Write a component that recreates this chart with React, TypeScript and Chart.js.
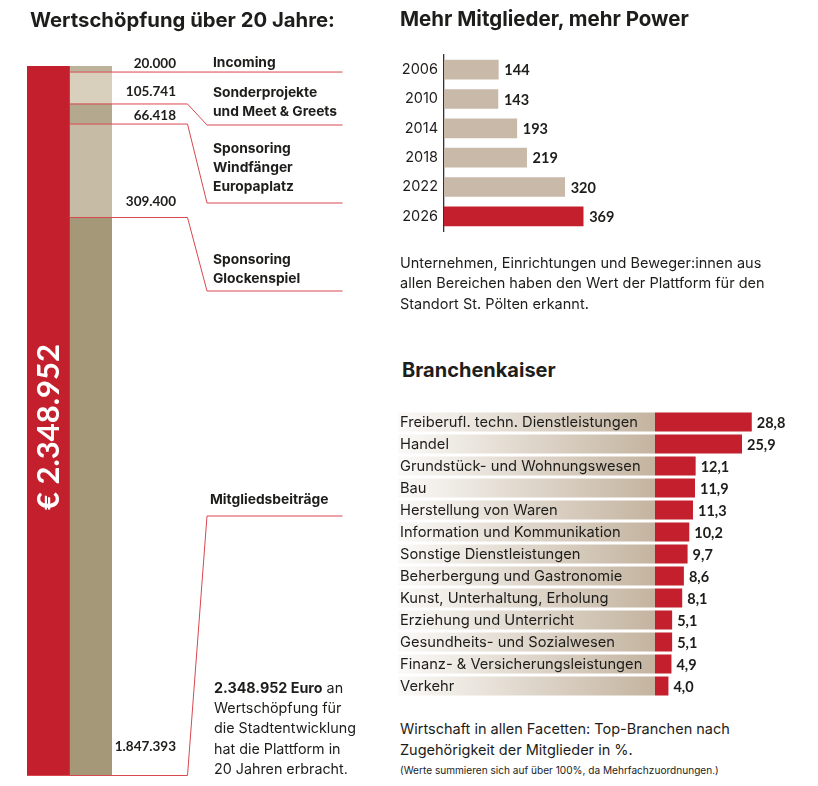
import React, { useEffect, useRef } from 'react';
import { Chart, registerables } from 'chart.js';
Chart.register(...registerables);

const FONT = 'Inter, "Noto Sans", sans-serif';
const NUMFONT = 'Lato, "Noto Sans", sans-serif';
const RED = '#c41f2c';
const DARK = '#1d1d1b';

// ---- Wertschöpfung über 20 Jahre (top -> bottom) ----
const valueCategories = ['Incoming', 'Sonderprojekte und Meet & Greets', 'Sponsoring Windfänger Europaplatz', 'Sponsoring Glockenspiel', 'Mitgliedsbeiträge'];
const valueLabelLines = [['Incoming'], ['Sonderprojekte', 'und Meet & Greets'], ['Sponsoring', 'Windfänger', 'Europaplatz'], ['Sponsoring', 'Glockenspiel'], ['Mitgliedsbeiträge']];
const valueAmounts = [20000, 105741, 66418, 309400, 1847393];
const valueTotal = 2348952;
const valueColors = ['#bdb39b', '#d8d0bd', '#b4a98f', '#c6bca6', '#a59878'];

// ---- Mehr Mitglieder, mehr Power ----
const memberYears = ['2006', '2010', '2014', '2018', '2022', '2026'];
const memberCounts = [144, 143, 193, 219, 320, 369];

// ---- Branchenkaiser ----
const branchLabels = [
  'Freiberufl. techn. Dienstleistungen', 'Handel', 'Grundstück- und Wohnungswesen', 'Bau',
  'Herstellung von Waren', 'Information und Kommunikation', 'Sonstige Dienstleistungen',
  'Beherbergung und Gastronomie', 'Kunst, Unterhaltung, Erholung', 'Erziehung und Unterricht',
  'Gesundheits- und Sozialwesen', 'Finanz- & Versicherungsleistungen', 'Verkehr',
];
const branchShares = [28.8, 25.9, 12.1, 11.9, 11.3, 10.2, 9.7, 8.6, 8.1, 5.1, 5.1, 4.9, 4.0];

// annotation layout for the left chart (page px)
const annotLineY = [null, 125, 203, 291, 516];
const annotLabelY = [63, 92.5, 149, 259.5, 500];
const valueLabelOffset = [8.7, 12, 8, 16, 28.5];

const fmtInt = (n: number) => String(Math.round(n)).replace(/\B(?=(\d{3})+(?!\d))/g, '.');
const fmtDec = (n: number) => n.toFixed(1).replace('.', ',');

function useChart(ref: React.RefObject<HTMLCanvasElement>, make: () => any) {
  useEffect(() => {
    if (!ref.current) return;
    const c = new Chart(ref.current, make());
    return () => c.destroy();
  }, []);
}

function ValueChart() {
  const ref = useRef<HTMLCanvasElement>(null);
  useChart(ref, () => {
    const n = valueAmounts.length;
    const datasets: any[] = [
      { label: 'Gesamt', data: [valueTotal, null], backgroundColor: RED, stack: 's' },
    ];
    for (let i = n - 1; i >= 0; i--) {
      datasets.push({ label: valueCategories[i], data: [null, valueAmounts[i]], backgroundColor: valueColors[i], stack: 's' });
    }
    return {
      type: 'bar',
      data: { labels: ['Gesamt', 'Anteile'], datasets },
      options: {
        responsive: false, animation: false,
        datasets: { bar: { barPercentage: 1, categoryPercentage: 1, borderWidth: 0 } },
        layout: { padding: { left: 27, right: 288, top: 66, bottom: 10.5 } },
        plugins: { legend: { display: false }, tooltip: { enabled: false } },
        scales: {
          x: { display: false, stacked: true },
          y: { display: false, stacked: true, min: 0, max: valueTotal },
        },
      },
      plugins: [{
        id: 'annot',
        afterDatasetsDraw(chart: any) {
          const { ctx, chartArea, scales } = chart;
          const y = scales.y;
          const x = scales.x;
          const redCenter = x.getPixelForValue(0);
          const beigeLeft = (x.getPixelForValue(0) + x.getPixelForValue(1)) / 2;
          ctx.save();
          let top = valueTotal;
          for (let i = 0; i < n; i++) {
            const bottomVal = top - valueAmounts[i];
            const yb = y.getPixelForValue(bottomVal);
            const ly = annotLineY[i] == null ? yb : (annotLineY[i] as number);
            ctx.strokeStyle = '#d9474f';
            ctx.lineWidth = 1;
            ctx.beginPath();
            ctx.moveTo(i === n - 1 ? chartArea.left : beigeLeft, yb);
            ctx.lineTo(187.5, yb);
            ctx.lineTo(207, ly);
            ctx.lineTo(342.5, ly);
            ctx.stroke();
            ctx.fillStyle = DARK;
            ctx.textBaseline = 'middle';
            ctx.textAlign = 'right';
            ctx.font = `bold 13.5px ${NUMFONT}`;
            ctx.fillText(fmtInt(valueAmounts[i]), 176, yb - valueLabelOffset[i]);
            ctx.textAlign = 'left';
            ctx.font = `bold 13.8px ${FONT}`;
            valueLabelLines[i].forEach((t, j) => ctx.fillText(t, i === n - 1 ? 210 : 213, annotLabelY[i] + j * 19));
            top = bottomVal;
          }
          ctx.translate(redCenter, 427);
          ctx.rotate(-Math.PI / 2);
          ctx.textAlign = 'center';
          ctx.fillStyle = '#ffffff';
          ctx.font = `bold 31px ${NUMFONT}`;
          ctx.fillText('€ ' + fmtInt(valueTotal), 0, 1);
          ctx.restore();
        },
      }],
    };
  });
  return <canvas ref={ref} width={400} height={786} style={{ position: 'absolute', left: 0, top: 0, width: 400, height: 786 }} />;
}

function MemberChart() {
  const ref = useRef<HTMLCanvasElement>(null);
  useChart(ref, () => ({
    type: 'bar',
    data: {
      labels: memberYears,
      datasets: [{
        label: 'Mitglieder', data: memberCounts,
        backgroundColor: memberCounts.map((_, i) => (i === memberCounts.length - 1 ? RED : '#c8b9a8')),
        barThickness: 19, borderWidth: 0,
      }],
    },
    options: {
      indexAxis: 'y', responsive: false, animation: false,
      layout: { padding: { left: 0, right: 110, top: 15, bottom: 19 } },
      plugins: { legend: { display: false }, tooltip: { enabled: false } },
      scales: {
        x: { display: false, min: 0, max: 700 },
        y: {
          grid: { display: false, drawTicks: false },
          border: { display: true, color: '#333', width: 1.3 },
          ticks: { color: DARK, font: { family: FONT, size: 14.5 }, padding: 6 },
          afterFit(s: any) { s.width = 54; },
        },
      },
    },
    plugins: [{
      id: 'vals',
      afterDatasetsDraw(chart: any) {
        const { ctx } = chart;
        const meta = chart.getDatasetMeta(0);
        ctx.save();
        ctx.fillStyle = DARK;
        ctx.font = `bold 14.5px ${NUMFONT}`;
        ctx.textBaseline = 'middle';
        meta.data.forEach((b: any, i: number) => ctx.fillText(String(memberCounts[i]), b.x + 6, b.y + 1));
        ctx.restore();
      },
    }],
  }));
  return <canvas ref={ref} width={428} height={210} style={{ position: 'absolute', left: 390, top: 40, width: 428, height: 210 }} />;
}

function BranchChart() {
  const ref = useRef<HTMLCanvasElement>(null);
  useChart(ref, () => ({
    type: 'bar',
    data: {
      labels: branchLabels,
      datasets: [{ label: 'Anteil', data: branchShares, backgroundColor: RED, borderWidth: 0, barPercentage: 19 / 22, categoryPercentage: 1 }],
    },
    options: {
      indexAxis: 'y', responsive: false, animation: false,
      layout: { padding: { left: 265, right: 28.6, top: 11, bottom: 3 } },
      plugins: { legend: { display: false }, tooltip: { enabled: false } },
      scales: { x: { display: false, min: 0, max: 40 }, y: { display: false } },
    },
    plugins: [{
      id: 'bg',
      beforeDatasetsDraw(chart: any) {
        const { ctx, chartArea } = chart;
        const meta = chart.getDatasetMeta(0);
        ctx.save();
        const x0 = 8;
        const g = ctx.createLinearGradient(x0, 0, chartArea.left, 0);
        g.addColorStop(0, '#fbfaf8');
        g.addColorStop(1, '#c4b4a0');
        meta.data.forEach((b: any, i: number) => {
          ctx.fillStyle = g;
          ctx.fillRect(x0, b.y - b.height / 2, chartArea.left - x0, b.height);
          ctx.fillStyle = DARK;
          ctx.font = `14.7px ${FONT}`;
          ctx.textBaseline = 'middle';
          ctx.fillText(branchLabels[i], 10, b.y + 1);
        });
        ctx.restore();
      },
      afterDatasetsDraw(chart: any) {
        const { ctx } = chart;
        const meta = chart.getDatasetMeta(0);
        ctx.save();
        ctx.fillStyle = DARK;
        ctx.font = `bold 14.5px ${NUMFONT}`;
        ctx.textBaseline = 'middle';
        meta.data.forEach((b: any, i: number) => ctx.fillText(fmtDec(branchShares[i]), b.x + 5, b.y + 1));
        ctx.restore();
      },
    }],
  }));
  return <canvas ref={ref} width={428} height={300} style={{ position: 'absolute', left: 390, top: 400, width: 428, height: 300 }} />;
}

const T = (p: { x: number; y: number; size: number; lh?: number; bold?: boolean; children: any }) => (
  <div style={{
    position: 'absolute', left: p.x, top: p.y, fontSize: p.size, lineHeight: `${p.lh ?? p.size * 1.2}px`,
    fontWeight: p.bold ? 700 : 400, color: DARK, whiteSpace: 'pre', fontFamily: FONT,
  }}>{p.children}</div>
);

export default function App() {
  return (
    <div style={{ position: 'absolute', left: 0, top: 0, width: 818, height: 786, background: '#fff', overflow: 'hidden' }}>
      <ValueChart />
      <MemberChart />
      <BranchChart />
      <T x={30} y={6} size={20.3} lh={28} bold>Wertschöpfung über 20 Jahre:</T>
      <T x={400} y={5} size={20.5} lh={28} bold>Mehr Mitglieder, mehr Power</T>
      <T x={402} y={356} size={20} lh={28} bold>Branchenkaiser</T>
      <T x={400} y={252.5} size={14.5} lh={20.6}>{'Unternehmen, Einrichtungen und Beweger:innen aus\nallen Bereichen haben den Wert der Plattform für den\nStandort St. Pölten erkannt.'}</T>
      <T x={400} y={717.5} size={14.5} lh={21}>{'Wirtschaft in allen Facetten: Top-Branchen nach\nZugehörigkeit der Mitglieder in %.'}</T>
      <T x={400} y={764} size={10.1} lh={13}>(Werte summieren sich auf über 100%, da Mehrfachzuordnungen.)</T>
      <T x={214} y={678} size={14.3} lh={20.2}>
        <b>2.348.952 Euro</b>{' an\nWertschöpfung für\ndie Stadtentwicklung\nhat die Plattform in\n20 Jahren erbracht.'}
      </T>
    </div>
  );
}
